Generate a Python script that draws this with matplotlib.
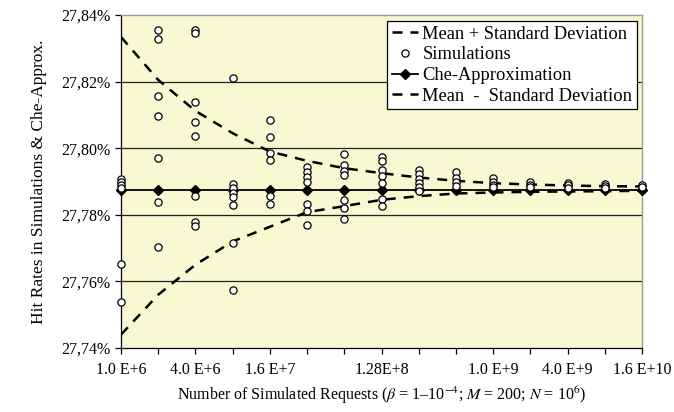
import numpy as np
import matplotlib.pyplot as plt
from matplotlib.ticker import FixedLocator, FuncFormatter, NullLocator

plt.rcParams['font.family'] = ['Liberation Serif', 'DejaVu Serif']
plt.rcParams['mathtext.fontset'] = 'stix'

# number of simulated requests (doubling each step)
requests = [1.0e6, 2.0e6, 4.0e6, 8.0e6, 1.6e7, 3.2e7, 6.4e7, 1.28e8,
            2.56e8, 5.12e8, 1.024e9, 2.048e9, 4.096e9, 8.192e9, 1.6384e10]

# hit rates in % from the simulation runs at each request count
simulations = [
    [27.7908, 27.7898, 27.7889, 27.7881, 27.7651, 27.7539],
    [27.8355, 27.8327, 27.8157, 27.8097, 27.7971, 27.7839, 27.7703],
    [27.8355, 27.8347, 27.8140, 27.8080, 27.8037, 27.7856, 27.7779, 27.7766],
    [27.8212, 27.7893, 27.7880, 27.7866, 27.7853, 27.7829, 27.7714, 27.7574],
    [27.8085, 27.8035, 27.7986, 27.7965, 27.7856, 27.7831],
    [27.7945, 27.7930, 27.7914, 27.7899, 27.7831, 27.7811, 27.7769],
    [27.7982, 27.7950, 27.7932, 27.7920, 27.7844, 27.7820, 27.7787],
    [27.7975, 27.7962, 27.7935, 27.7917, 27.7895, 27.7847, 27.7827],
    [27.7935, 27.7922, 27.7908, 27.7895, 27.7882, 27.7872],
    [27.7928, 27.7912, 27.7897, 27.7885],
    [27.7910, 27.7900, 27.7890, 27.7882],
    [27.7898, 27.7890, 27.7882],
    [27.7895, 27.7888, 27.7880],
    [27.7893, 27.7886, 27.7879],
    [27.7889, 27.7884],
]

che_approx = [27.7874] * 15

mean_plus_std = [27.8334, 27.8205, 27.8112, 27.8045, 27.7990, 27.7962, 27.7940, 27.7925,
                 27.7912, 27.7902, 27.7895, 27.7891, 27.7888, 27.7886, 27.7885]
mean_minus_std = [27.7440, 27.7560, 27.7650, 27.7720, 27.7764, 27.7808, 27.7826, 27.7845,
                  27.7856, 27.7864, 27.7867, 27.7869, 27.7870, 27.7871, 27.7872]

tick_pos = [1.0e6, 4.0e6, 1.6e7, 1.28e8, 1.024e9, 4.096e9, 1.6384e10]
tick_labels = ['1.0 E+6', '4.0 E+6', '1.6 E+7', '1.28E+8', '1.0 E+9', '4.0 E+9', '1.6 E+10']

fig = plt.figure(figsize=(6.74, 4.12), dpi=100)
ax = fig.add_axes([121/674, 1 - 348/412, (642 - 121)/674, (348 - 15)/412])
ax.set_facecolor('#faf8d2')

ax.set_xscale('log', base=2)
ax.set_xlim(requests[0], requests[-1])
ax.set_ylim(27.74, 27.84)

yt = [27.74, 27.76, 27.78, 27.80, 27.82, 27.84]
for y in yt[1:-1]:
    ax.axhline(y, color='#222222', lw=0.9, zorder=1)

ax.plot(requests, mean_plus_std, color='black', lw=1.8, dashes=(4, 3.2),
        label='Mean + Standard Deviation', zorder=3)

xs = []
ys = []
for r, vals in zip(requests, simulations):
    xs += [r] * len(vals)
    ys += vals
ax.plot(xs, ys, 'o', mfc='white', mec='black', mew=0.9, ms=5.2,
        label='Simulations', zorder=5, clip_on=False)

ax.plot(requests, che_approx, '-D', color='black', lw=1.3, ms=4.6,
        label='Che-Approximation', zorder=4, clip_on=False)

ax.plot(requests, mean_minus_std, color='black', lw=1.8, dashes=(4, 3.2),
        label='Mean  -  Standard Deviation', zorder=3)


def xlabel_for(v, pos):
    for t, lab in zip(tick_pos, tick_labels):
        if abs(np.log2(t) - np.log2(v)) < 0.1:
            return lab
    return ''


ax.xaxis.set_major_locator(FixedLocator(requests))
ax.xaxis.set_minor_locator(NullLocator())
ax.xaxis.set_major_formatter(FuncFormatter(xlabel_for))

ax.set_yticks(yt)
ax.yaxis.set_major_formatter(FuncFormatter(lambda v, p: f'{v:.2f}%'.replace('.', ',')))

ax.tick_params(axis='both', direction='out', length=4, width=0.9, labelsize=11.5, colors='black')
ax.tick_params(axis='x', pad=6)

for s in ['top', 'right']:
    ax.spines[s].set_color('#999999')
    ax.spines[s].set_linewidth(1.0)
for s in ['left', 'bottom']:
    ax.spines[s].set_color('black')
    ax.spines[s].set_linewidth(0.9)

ax.set_xlabel(r'Number of Simulated Requests ($\beta$ = 1–10$^{-4}$; $M$ = 200; $N$ = 10$^{6}$)',
              fontsize=11.5, labelpad=5)
ax.set_ylabel('Hit Rates in Simulations & Che-Approx.', fontsize=12.5, labelpad=10)

leg = ax.legend(loc='upper right', bbox_to_anchor=(0.99, 0.982), borderaxespad=0,
                fancybox=False, framealpha=1, edgecolor='black', fontsize=13.3,
                handlelength=1.4, handletextpad=0.25, borderpad=0.25, labelspacing=0.2)
leg.get_frame().set_linewidth(0.9)

plt.savefig('out.png', dpi=100)
